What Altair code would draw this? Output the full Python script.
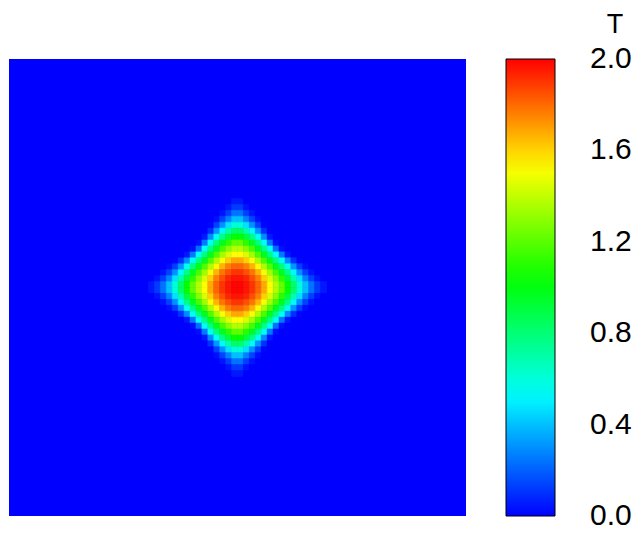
import altair as alt
import pandas as pd

# Temperature field T: 30 x 30 cells around the centre
# (row 0 = top); outside the grid T = 0.
T_ROWS = [
    [0,0,0,0,0,0,0,0,0,0,0,0,0,0,0.05,0.05,0,0,0,0,0,0,0,0,0,0,0,0,0,0],
    [0,0,0,0,0,0,0,0,0,0,0,0,0,0.04,0.12,0.12,0.04,0,0,0,0,0,0,0,0,0,0,0,0,0],
    [0,0,0,0,0,0,0,0,0,0,0,0,0.04,0.13,0.24,0.24,0.13,0.04,0,0,0,0,0,0,0,0,0,0,0,0],
    [0,0,0,0,0,0,0,0,0,0,0,0.03,0.14,0.27,0.40,0.40,0.27,0.14,0.03,0,0,0,0,0,0,0,0,0,0,0],
    [0,0,0,0,0,0,0,0,0,0,0.01,0.13,0.30,0.47,0.61,0.61,0.47,0.30,0.13,0.01,0,0,0,0,0,0,0,0,0,0],
    [0,0,0,0,0,0,0,0,0,0,0.10,0.31,0.52,0.70,0.83,0.83,0.70,0.52,0.31,0.10,0,0,0,0,0,0,0,0,0,0],
    [0,0,0,0,0,0,0,0,0,0.05,0.29,0.55,0.77,0.92,1.04,1.04,0.92,0.77,0.55,0.29,0.05,0,0,0,0,0,0,0,0,0],
    [0,0,0,0,0,0,0,0,0.03,0.25,0.55,0.79,0.97,1.11,1.22,1.22,1.11,0.97,0.79,0.55,0.25,0.03,0,0,0,0,0,0,0,0],
    [0,0,0,0,0,0,0,0.03,0.23,0.54,0.78,0.98,1.16,1.29,1.37,1.37,1.29,1.16,0.98,0.78,0.54,0.23,0.03,0,0,0,0,0,0,0],
    [0,0,0,0,0,0,0.05,0.25,0.54,0.78,0.98,1.18,1.34,1.45,1.52,1.52,1.45,1.34,1.18,0.98,0.78,0.54,0.25,0.05,0,0,0,0,0,0],
    [0,0,0,0,0.01,0.10,0.29,0.55,0.78,0.98,1.18,1.36,1.51,1.61,1.68,1.68,1.61,1.51,1.36,1.18,0.98,0.78,0.55,0.29,0.10,0.01,0,0,0,0],
    [0,0,0,0.03,0.13,0.31,0.55,0.79,0.98,1.18,1.36,1.53,1.66,1.76,1.81,1.81,1.76,1.66,1.53,1.36,1.18,0.98,0.79,0.55,0.31,0.13,0.03,0,0,0],
    [0,0,0.04,0.14,0.30,0.52,0.77,0.97,1.16,1.34,1.51,1.66,1.78,1.85,1.90,1.90,1.85,1.78,1.66,1.51,1.34,1.16,0.97,0.77,0.52,0.30,0.14,0.04,0,0],
    [0,0.04,0.13,0.27,0.47,0.70,0.92,1.11,1.29,1.45,1.61,1.76,1.85,1.93,1.96,1.96,1.93,1.85,1.76,1.61,1.45,1.29,1.11,0.92,0.70,0.47,0.27,0.13,0.04,0],
    [0.05,0.12,0.24,0.40,0.61,0.83,1.04,1.22,1.37,1.52,1.68,1.81,1.90,1.96,1.99,1.99,1.96,1.90,1.81,1.68,1.52,1.37,1.22,1.04,0.83,0.61,0.40,0.24,0.12,0.05],
    [0.05,0.12,0.24,0.40,0.61,0.83,1.04,1.22,1.37,1.52,1.68,1.81,1.90,1.96,1.99,1.99,1.96,1.90,1.81,1.68,1.52,1.37,1.22,1.04,0.83,0.61,0.40,0.24,0.12,0.05],
    [0,0.04,0.13,0.27,0.47,0.70,0.92,1.11,1.29,1.45,1.61,1.76,1.85,1.93,1.96,1.96,1.93,1.85,1.76,1.61,1.45,1.29,1.11,0.92,0.70,0.47,0.27,0.13,0.04,0],
    [0,0,0.04,0.14,0.30,0.52,0.77,0.97,1.16,1.34,1.51,1.66,1.78,1.85,1.90,1.90,1.85,1.78,1.66,1.51,1.34,1.16,0.97,0.77,0.52,0.30,0.14,0.04,0,0],
    [0,0,0,0.03,0.13,0.31,0.55,0.79,0.98,1.18,1.36,1.53,1.66,1.76,1.81,1.81,1.76,1.66,1.53,1.36,1.18,0.98,0.79,0.55,0.31,0.13,0.03,0,0,0],
    [0,0,0,0,0.01,0.10,0.29,0.55,0.78,0.98,1.18,1.36,1.51,1.61,1.68,1.68,1.61,1.51,1.36,1.18,0.98,0.78,0.55,0.29,0.10,0.01,0,0,0,0],
    [0,0,0,0,0,0,0.05,0.25,0.54,0.78,0.98,1.18,1.34,1.45,1.52,1.52,1.45,1.34,1.18,0.98,0.78,0.54,0.25,0.05,0,0,0,0,0,0],
    [0,0,0,0,0,0,0,0.03,0.23,0.54,0.78,0.98,1.16,1.29,1.37,1.37,1.29,1.16,0.98,0.78,0.54,0.23,0.03,0,0,0,0,0,0,0],
    [0,0,0,0,0,0,0,0,0.03,0.25,0.55,0.79,0.97,1.11,1.22,1.22,1.11,0.97,0.79,0.55,0.25,0.03,0,0,0,0,0,0,0,0],
    [0,0,0,0,0,0,0,0,0,0.05,0.29,0.55,0.77,0.92,1.04,1.04,0.92,0.77,0.55,0.29,0.05,0,0,0,0,0,0,0,0,0],
    [0,0,0,0,0,0,0,0,0,0,0.10,0.31,0.52,0.70,0.83,0.83,0.70,0.52,0.31,0.10,0,0,0,0,0,0,0,0,0,0],
    [0,0,0,0,0,0,0,0,0,0,0.01,0.13,0.30,0.47,0.61,0.61,0.47,0.30,0.13,0.01,0,0,0,0,0,0,0,0,0,0],
    [0,0,0,0,0,0,0,0,0,0,0,0.03,0.14,0.27,0.40,0.40,0.27,0.14,0.03,0,0,0,0,0,0,0,0,0,0,0],
    [0,0,0,0,0,0,0,0,0,0,0,0,0.04,0.13,0.24,0.24,0.13,0.04,0,0,0,0,0,0,0,0,0,0,0,0],
    [0,0,0,0,0,0,0,0,0,0,0,0,0,0.04,0.12,0.12,0.04,0,0,0,0,0,0,0,0,0,0,0,0,0],
    [0,0,0,0,0,0,0,0,0,0,0,0,0,0,0.05,0.05,0,0,0,0,0,0,0,0,0,0,0,0,0,0],
]
DOMAIN_CELLS = 77        # the square spans 77 cells per side
GRID_FIRST_CELL = 23.5   # the 30 x 30 block is centred in the square
BACKGROUND_T = 0.0

T_TICKS = [0.0, 0.4, 0.8, 1.2, 1.6, 2.0]
COLOR_STOPS = [0.0, 0.53, 1.03, 1.52, 2.0]
COLOR_RANGE = ["#0000ff", "#00ffff", "#00ff00", "#ffff00", "#ff0000"]
LEGEND_TITLE = ["T"]

for row in T_ROWS:
    assert len(row) == 30
assert len(T_ROWS) == 30

n = len(T_ROWS)
records = []
for r, row in enumerate(T_ROWS):
    for c, v in enumerate(row):
        records.append({
            "x": GRID_FIRST_CELL + c, "x2": GRID_FIRST_CELL + c + 1,
            "y": GRID_FIRST_CELL + n - 1 - r, "y2": GRID_FIRST_CELL + n - r,
            "T": v, "Tedge": v,
        })
cells = pd.DataFrame(records)
background = pd.DataFrame([{"x": 0, "x2": DOMAIN_CELLS, "y": 0, "y2": DOMAIN_CELLS, "T": BACKGROUND_T}])
title_df = pd.DataFrame({"label": LEGEND_TITLE})

FONT = "Liberation Sans"
FS = 30
xs = alt.Scale(domain=[0, DOMAIN_CELLS], nice=False, zero=False)
ys = alt.Scale(domain=[0, DOMAIN_CELLS], nice=False, zero=False)
cscale = alt.Scale(domain=COLOR_STOPS, range=COLOR_RANGE, interpolate="rgb")

# keep end labels centred on the bar ends
eps = 1e-6
legend_values = [T_TICKS[0] + eps] + T_TICKS[1:-1] + [T_TICKS[-1] - eps]

legend = alt.Legend(
    type="gradient",
    title=None,
    orient="none",
    legendX=497,
    legendY=0,
    direction="vertical",
    gradientLength=457,
    gradientThickness=49,
    gradientStrokeColor="black",
    gradientStrokeWidth=1,
    values=legend_values,
    format=".1f",
    labelFont=FONT,
    labelFontSize=FS,
    labelColor="black",
    labelOffset=35,
    labelOverlap=False,
)

bg = alt.Chart(background).mark_rect().encode(
    x=alt.X("x:Q", scale=xs, axis=None),
    x2="x2:Q",
    y=alt.Y("y:Q", scale=ys, axis=None),
    y2="y2:Q",
    color=alt.Color("T:Q", scale=cscale, legend=legend),
)

heat = alt.Chart(cells).mark_rect(strokeWidth=0.6).encode(
    x=alt.X("x:Q", scale=xs, axis=None),
    x2="x2:Q",
    y=alt.Y("y:Q", scale=ys, axis=None),
    y2="y2:Q",
    color=alt.Color("T:Q", scale=cscale, legend=legend),
    stroke=alt.Stroke("Tedge:Q", scale=cscale, legend=None),
)

title_mark = alt.Chart(title_df).mark_text(
    font=FONT, fontSize=27, color="black", align="center", baseline="alphabetic"
).encode(
    x=alt.value(606),
    y=alt.value(-26.5),
    text="label:N",
)

chart = alt.layer(bg, heat, title_mark).resolve_legend(stroke="independent").properties(
    width=457, height=457,
    autosize=alt.AutoSizeParams(type="none"),
    padding={"left": 1, "top": 51, "right": 166, "bottom": 15},
).configure_view(strokeWidth=0)

chart.save("out.html", embed_options={"renderer": "svg", "actions": False})
